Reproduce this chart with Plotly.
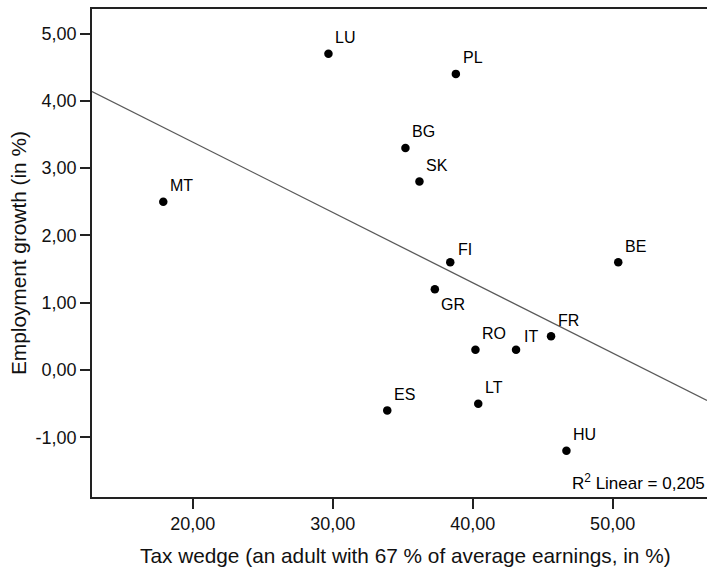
import numpy as np
import plotly.graph_objects as go

# ---- data ----
countries = ["LU", "PL", "BG", "SK", "MT", "FI", "GR", "BE", "FR", "RO", "IT", "ES", "LT", "HU"]
tax_wedge = [29.7, 38.8, 35.2, 36.2, 17.9, 38.4, 37.3, 50.4, 45.6, 40.2, 43.1, 33.9, 40.4, 46.7]
employment_growth = [4.7, 4.4, 3.3, 2.8, 2.5, 1.6, 1.2, 1.6, 0.5, 0.3, 0.3, -0.6, -0.5, -1.2]

x_ticks = [20, 30, 40, 50]
x_tick_labels = ["20,00", "30,00", "40,00", "50,00"]
y_ticks = [-1, 0, 1, 2, 3, 4, 5]
y_tick_labels = ["-1,00", "0,00", "1,00", "2,00", "3,00", "4,00", "5,00"]
r2_text = "R<sup>2</sup> Linear = 0,205"
x_title = "Tax wedge (an adult with 67 % of average earnings, in %)"
y_title = "Employment growth (in %)"

# ---- layout constants ----
W, H = 707, 568
ML, MR, MT_, MB = 92, 0, 9, 71
X_RANGE = [12.81, 56.74]
Y_RANGE = [-1.887, 5.364]
FONT = "Liberation Sans, Arial, sans-serif"

# label offsets (pixels): default up-right
label_shift = {"GR": (4, -15), "FI": (6, 13), "IT": (6, 13)}

fig = go.Figure()

# regression line fitted from the data
slope, intercept = np.polyfit(tax_wedge, employment_growth, 1)
fx = np.array(X_RANGE)
fig.add_trace(go.Scatter(
    x=fx, y=slope * fx + intercept, mode="lines",
    line=dict(color="#5a5a5a", width=1.3), hoverinfo="skip", showlegend=False,
))

fig.add_trace(go.Scatter(
    x=tax_wedge, y=employment_growth, mode="markers",
    marker=dict(color="black", size=8.5), showlegend=False,
))

annotations = []
for c, x, y in zip(countries, tax_wedge, employment_growth):
    dx, dy = label_shift.get(c, (5, 16))
    annotations.append(dict(
        x=x, y=y, xref="x", yref="y", text=c, showarrow=False,
        xanchor="left", yanchor="middle", xshift=dx, yshift=dy,
        font=dict(family=FONT, size=16, color="black"),
    ))

plot_w = W - ML - MR
annotations.append(dict(
    x=1, y=0, xref="paper", yref="paper", text=r2_text, showarrow=False,
    xanchor="right", yanchor="middle", xshift=0, yshift=15,
    font=dict(family=FONT, size=17, color="black"),
))
annotations.append(dict(
    x=(405 - ML) / plot_w, y=0, xref="paper", yref="paper", text=x_title,
    showarrow=False, xanchor="center", yanchor="middle", yshift=-58,
    font=dict(family=FONT, size=20.8, color="#111"),
))
annotations.append(dict(
    x=0, y=0.5, xref="paper", yref="paper", text=y_title, textangle=-90,
    showarrow=False, xanchor="center", yanchor="middle", xshift=-(ML - 18),
    font=dict(family=FONT, size=20.8, color="#111"),
))

fig.update_layout(
    width=W, height=H,
    margin=dict(l=ML, r=MR, t=MT_, b=MB, pad=0),
    paper_bgcolor="white", plot_bgcolor="white",
    font=dict(family=FONT, size=18, color="#111"),
    annotations=annotations,
    showlegend=False,
)
fig.update_xaxes(
    range=X_RANGE, tickvals=x_ticks, ticktext=x_tick_labels,
    showgrid=False, zeroline=False, showline=True, linecolor="#222", linewidth=1.6,
    mirror=True, ticks="outside", ticklen=10, tickwidth=1.6, tickcolor="#222",
)
fig.update_yaxes(
    range=Y_RANGE, tickvals=y_ticks, ticktext=y_tick_labels,
    showgrid=False, zeroline=False, showline=True, linecolor="#222", linewidth=1.6,
    ticks="outside", ticklen=10, tickwidth=1.6, tickcolor="#222",
)

fig.write_html(
    "out.html",
    config={"displayModeBar": False},
    post_script="document.body.style.margin='0';document.body.style.overflow='hidden';",
)
